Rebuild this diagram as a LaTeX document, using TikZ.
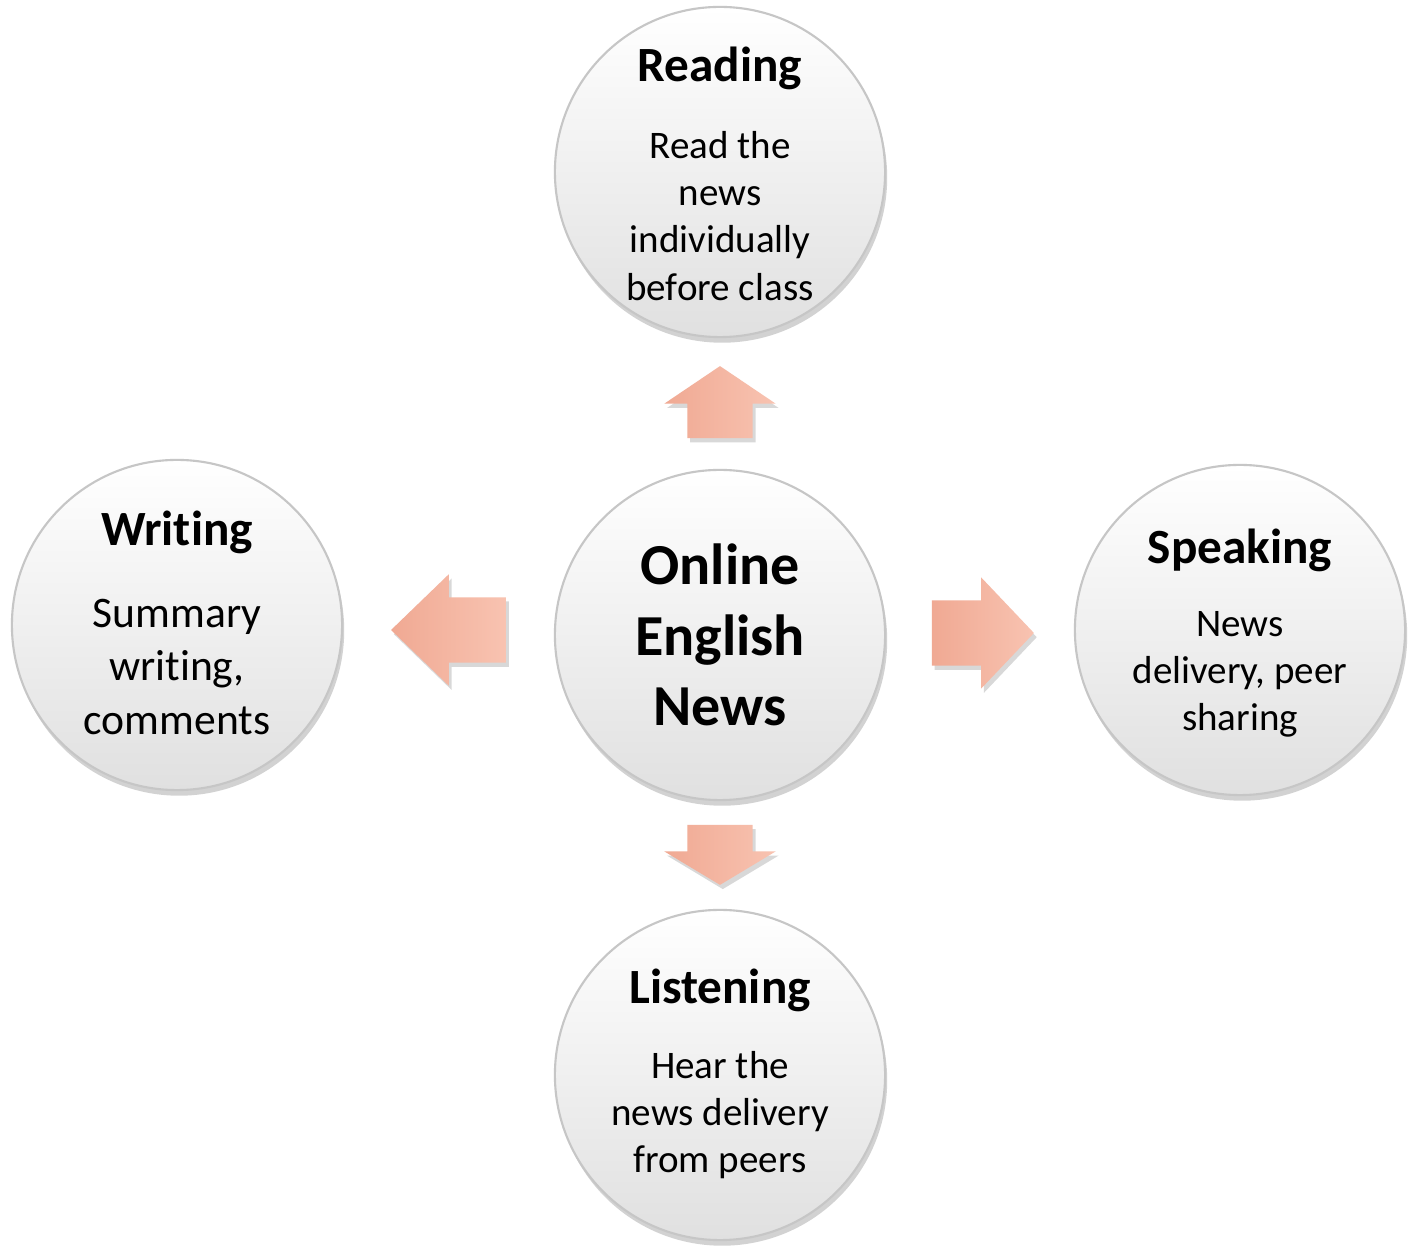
\documentclass[tikz,border=0pt]{standalone}
\usepackage{fontspec}
\setmainfont{Carlito}[Ligatures={NoCommon}]
\usetikzlibrary{positioning, calc, shapes.arrows, shadows}

\definecolor{arrowdark}{HTML}{F0A993}
\definecolor{arrowlight}{HTML}{F8C3B1}
\definecolor{rimgray}{HTML}{C6C6C6}
\definecolor{basegray}{HTML}{E0E0E0}

\begin{document}
\begin{tikzpicture}[x=0.01cm, y=-0.01cm,
    bubble/.style={circle, draw=rimgray, line width=0.6pt, minimum size=3.3cm, inner sep=0pt,
        top color=white, middle color=white, bottom color=basegray,
        drop shadow={shadow xshift=0.6pt, shadow yshift=-1.6pt, opacity=0.35}},
    head/.style={font=\bfseries\fontsize{14}{17}\selectfont, inner sep=0pt},
    body/.style={align=center, font=\fontsize{11.1}{13.4}\selectfont, inner sep=0pt},
    blockarrow/.style={single arrow, draw=none, inner xsep=0pt, inner ysep=0.32cm, minimum width=1.1cm,
        single arrow head extend=0.23cm, anchor=tail,
        left color=arrowdark, right color=arrowlight,
        drop shadow={shadow xshift=0.8pt, shadow yshift=-1.2pt, opacity=0.3}}
]
\fill[white] (0,0) rectangle (1417,1252);
\useasboundingbox (0,0) rectangle (1417,1252);

% circles
\node[bubble] (hub)    at (720,635)  {};
\node[bubble] (read)   at (720,172)  {};
\node[bubble] (write)  at (177,625)  {};
\node[bubble] (speak)  at (1240,630) {};
\node[bubble] (listen) at (720,1075) {};

% block arrows out of the hub
\node[blockarrow, rotate=90, single arrow tip angle=112, minimum height=0.72cm]
    (toRead) at ($(hub.north)+(0,-30)$) {};
\node[blockarrow, rotate=180, single arrow tip angle=88, minimum height=1.15cm]
    (toWrite) at ($(hub.west)+(-47,-5)$) {};
\node[blockarrow, rotate=0, single arrow tip angle=93, minimum height=1.02cm]
    (toSpeak) at ($(hub.east)+(45,-2)$) {};
\node[blockarrow, rotate=270, single arrow tip angle=118, minimum height=0.6cm]
    (toListen) at ($(hub.south)+(0,23)$) {};

% texts
\node[align=center, font=\bfseries\fontsize{16.5}{20}\selectfont, inner sep=0pt] (hubText) at (hub) {Online\\English\\News};

\node[head] (readHead) at ($(read)+(0,-104)$) {Reading};
\node[body] (readBody) at ($(read)+(0,44)$) {Read the\\news\\individually\\before class};

\node[head] (writeHead) at ($(write)+(0,-93)$) {Writing};
\node[body, font=\fontsize{12.4}{15.1}\selectfont] (writeBody) at ($(write)+(0,42)$) {Summary\\writing,\\comments};

\node[head] (speakHead) at ($(speak)+(0,-80)$) {Speaking};
\node[body] (speakBody) at ($(speak)+(0,44)$) {News\\delivery, peer\\sharing};

\node[head] (listenHead) at ($(listen)+(0,-85)$) {Listening};
\node[body] (listenBody) at ($(listen)+(0,40)$) {Hear the\\news delivery\\from peers};
\end{tikzpicture}
\end{document}
